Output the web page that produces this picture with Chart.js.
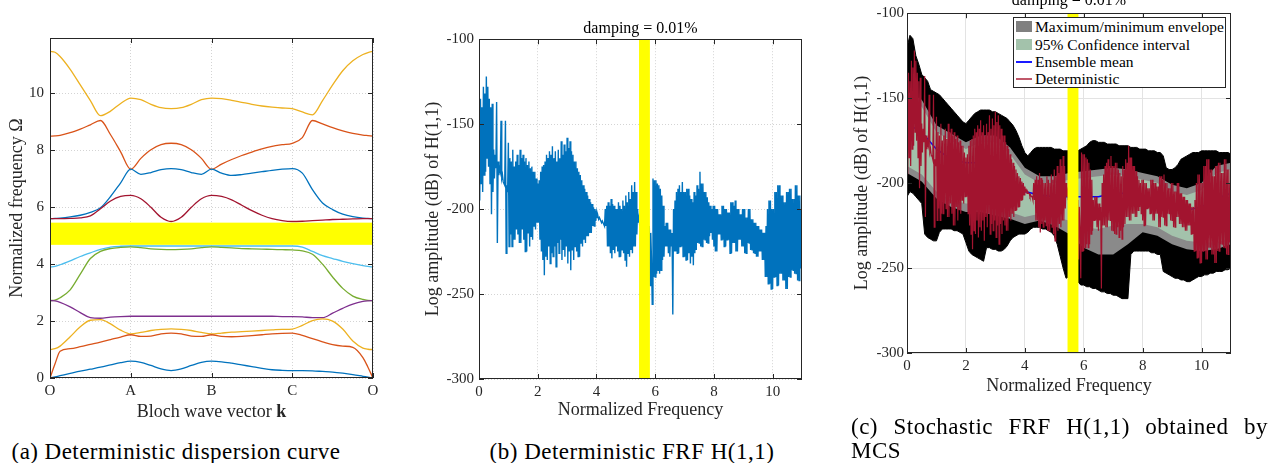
<!DOCTYPE html>
<html>
<head>
<meta charset="utf-8">
<script src="https://cdn.jsdelivr.net/npm/chart.js@4.4.1/dist/chart.umd.min.js"></script>
<style>
  html, body { margin: 0; padding: 0; background: #fff; }
  body { width: 1281px; height: 463px; position: relative; overflow: hidden; font-family: 'Liberation Serif', 'DejaVu Serif', 'Times New Roman', serif; }
  canvas { position: absolute; }
  .cap { position: absolute; font-size: 23px; line-height: 24px; letter-spacing: 0.5px; color: #000; white-space: nowrap; }
  #legend { position: absolute; left: 1013px; top: 17px; width: 211px; height: 69px; border: 1px solid #262626; background: #fff; font-size: 15.5px; color: #000; }
  #legend .row { position: absolute; left: 0; height: 17px; }
  #legend .sw { position: absolute; left: 2px; width: 16px; }
  #legend .tx { position: absolute; left: 21px; top: 0; line-height: 17px; white-space: nowrap; }
</style>
</head>
<body>
<canvas id="ca" width="400" height="430" style="left:0;top:0"></canvas>
<canvas id="cb" width="400" height="430" style="left:420px;top:0"></canvas>
<canvas id="cc" width="431" height="440" style="left:850px;top:-20px"></canvas>

<div id="legend">
  <div class="row" style="top:0px"><div class="sw" style="top:3px;height:11px;background:#808080"></div><div class="tx">Maximum/minimum envelope</div></div>
  <div class="row" style="top:18px"><div class="sw" style="top:3px;height:11px;background:#a3c2ab"></div><div class="tx">95% Confidence interval</div></div>
  <div class="row" style="top:35px"><div class="sw" style="top:8px;height:1.5px;background:#1a1aff"></div><div class="tx">Ensemble mean</div></div>
  <div class="row" style="top:52px"><div class="sw" style="top:8px;height:1.5px;background:#c0586a"></div><div class="tx">Deterministic</div></div>
</div>

<div class="cap" style="left:-14px;top:440px;width:380px;text-align:center;letter-spacing:0.45px">(a) Deterministic dispersion curve</div>
<div class="cap" style="left:432px;top:440px;width:400px;text-align:center">(b) Deterministic FRF H(1,1)</div>
<div class="cap" style="left:851px;top:415px;width:417px;text-align:justify;text-align-last:justify;">(c) Stochastic FRF H(1,1) obtained by</div>
<div class="cap" style="left:851px;top:439px;">MCS</div>

<script>
// ---------------- Panel (a): dispersion curves ----------------
const kLabels = ['O', 'A', 'B', 'C', 'O'];
const kPath = [0, 0.0625, 0.125, 0.25, 0.375, 0.5, 0.625, 0.75, 0.875, 1,
  1.125, 1.25, 1.375, 1.5, 1.625, 1.75, 1.875, 2,
  2.125, 2.25, 2.375, 2.5, 2.625, 2.75, 2.875, 3,
  3.125, 3.25, 3.375, 3.5, 3.625, 3.75, 3.875, 3.9375, 4];
const band1 = [0,0.04,0.08,0.16,0.24,0.31,0.38,0.46,0.54,0.59, 0.55,0.44,0.32,0.26,0.32,0.44,0.55,0.59, 0.57,0.52,0.46,0.40,0.34,0.29,0.27,0.26, 0.26,0.25,0.23,0.21,0.17,0.12,0.06,0.03,0];
const band2 = [0,0.5,0.94,1.03,1.1,1.18,1.26,1.35,1.44,1.52, 1.46,1.47,1.55,1.58,1.55,1.47,1.46,1.52, 1.46,1.45,1.46,1.49,1.52,1.55,1.57,1.58, 1.5,1.38,1.27,1.17,1.12,1.08,0.72,0.38,0];
const band3 = [1.0,1.03,1.12,1.45,1.8,2.03,2.05,1.9,1.68,1.55, 1.6,1.67,1.71,1.73,1.71,1.67,1.6,1.55, 1.58,1.61,1.63,1.65,1.67,1.69,1.71,1.72, 1.85,2.02,2.08,2.0,1.72,1.3,1.05,1.01,1.0];
const band4 = [2.72,2.71,2.66,2.5,2.3,2.12,2.1,2.14,2.16,2.17, 2.17,2.17,2.17,2.17,2.17,2.17,2.17,2.17, 2.17,2.17,2.17,2.17,2.17,2.17,2.16,2.16, 2.15,2.12,2.12,2.28,2.45,2.6,2.69,2.71,2.72];
const band5 = [2.72,2.74,2.82,3.1,3.65,4.2,4.45,4.55,4.59,4.61, 4.58,4.54,4.52,4.51,4.52,4.54,4.58,4.61, 4.59,4.57,4.55,4.54,4.53,4.52,4.51,4.5, 4.47,4.35,4.0,3.55,3.15,2.88,2.76,2.73,2.72];
const band6 = [3.9,3.92,3.98,4.12,4.27,4.4,4.52,4.6,4.63,4.64, 4.64,4.64,4.64,4.64,4.64,4.64,4.64,4.64, 4.64,4.64,4.64,4.64,4.64,4.64,4.64,4.64, 4.6,4.45,4.3,4.2,4.1,4.02,3.95,3.92,3.9];
const band7 = [5.6,5.6,5.6,5.61,5.63,5.7,5.95,6.22,6.38,6.42, 6.3,6.0,5.65,5.5,5.65,6.0,6.3,6.42, 6.38,6.26,6.07,5.88,5.72,5.6,5.53,5.5, 5.51,5.53,5.55,5.57,5.58,5.59,5.6,5.6,5.6];
const band8 = [5.6,5.61,5.62,5.66,5.72,5.82,5.98,6.38,6.86,7.34, 7.16,7.22,7.32,7.36,7.32,7.22,7.16,7.34, 7.2,7.12,7.15,7.2,7.25,7.3,7.34,7.36, 7.2,6.62,6.15,5.92,5.76,5.67,5.62,5.61,5.6];
const band9 = [8.5,8.51,8.53,8.62,8.75,8.9,9.05,8.55,7.95,7.34, 7.72,8.02,8.2,8.25,8.2,8.02,7.72,7.34, 7.52,7.68,7.82,7.94,8.05,8.14,8.2,8.25, 8.45,9.05,8.93,8.8,8.69,8.6,8.54,8.52,8.5];
const band10 = [11.48,11.45,11.3,10.85,10.3,9.75,9.22,9.38,9.65,9.84, 9.78,9.62,9.5,9.47,9.5,9.62,9.78,9.84, 9.82,9.76,9.69,9.62,9.56,9.52,9.49,9.47, 9.35,9.25,9.75,10.3,10.8,11.15,11.37,11.44,11.48];
const bandGapA = [4.68, 5.46];
const yTicksA = { min: 0, max: 11.95, step: 2 };

// ---------------- Panel (b): deterministic FRF (read at 0.025 steps) ----------------
const FREQ_STEP_B = 0.025;
const frfDet = [
 -150,-195,-135,-185, -140,-190,-128,-180, -132,-178,-122,-170, -128,-175,-135,-185, -140,-203,-138,-190,
 -165,-182,-168,-176, -137,-220,-172,-180, -176,-178,-148,-182, -180,-184,-184,-186, -148,-226,-186,-190,
 -161,-222,-170,-215, -172,-222,-165,-218, -175,-218,-172,-212, -168,-215,-174,-220, -165,-220,-170,-212,
 -168,-218,-172,-225, -170,-225,-174,-214, -172,-222,-176,-216, -175,-218,-178,-210, -178,-212,-182,-208,
 -185,-208,-183,-218, -178,-225,-175,-230, -174,-239,-172,-228, -168,-230,-170,-222, -166,-232,-168,-226,
 -163,-228,-170,-222, -166,-234,-172,-220, -165,-226,-170,-218, -160,-230,-168,-224, -162,-228,-166,-222,
 -158,-232,-164,-225, -160,-236,-166,-224, -168,-230,-172,-222, -172,-225,-176,-228, -178,-228,-180,-220,
 -183,-222,-186,-218, -188,-220,-190,-216, -192,-216,-194,-214, -196,-214,-197,-210, -199,-210,-200,-207,
 -202,-205,-204,-206, -205,-206,-206,-208, -207,-208,-208,-210, -200,-210,-198,-222, -196,-222,-198,-226,
 -194,-229,-197,-224, -198,-226,-200,-222, -200,-225,-196,-228, -198,-228,-200,-224, -195,-226,-198,-230,
 -192,-234,-196,-226, -190,-228,-194,-224, -186,-226,-190,-222, -184,-222,-190,-215, -200,-208,-205,-210,
 -205,-212,-205,-215, -205,-212,-205,-215, -205,-212,-205,-215,
 -210,-245,-214,-230, -256,-182,-240,-183, -240,-183,-238,-185, -236,-186,-238,-188, -236,-192,-230,-198,
 -228,-210,-222,-208, -222,-208,-226,-212, -228,-212,-222,-214, -262,-200,-225,-195, -225,-190,-226,-188,
 -226,-186,-222,-190, -222,-184,-228,-190, -228,-190,-230,-188, -230,-188,-226,-192, -232,-194,-228,-196,
 -233,-190,-226,-192, -224,-186,-220,-188, -220,-178,-222,-185, -222,-185,-218,-190, -218,-190,-220,-193,
 -220,-196,-216,-198, -214,-200,-218,-198, -222,-198,-225,-200, -225,-200,-215,-203, -215,-203,-218,-198,
 -218,-198,-222,-200, -222,-200,-218,-202, -218,-202,-226,-196, -226,-196,-220,-198, -220,-195,-225,-200,
 -225,-200,-218,-203, -218,-203,-222,-200, -222,-200,-226,-205, -226,-205,-220,-200, -220,-200,-224,-206,
 -224,-206,-226,-208, -226,-208,-228,-210, -228,-210,-225,-212, -225,-212,-230,-214, -230,-214,-240,-210,
 -240,-200,-244,-195, -244,-195,-247,-200, -247,-200,-240,-190, -240,-190,-245,-186, -245,-186,-238,-192,
 -238,-192,-242,-196, -242,-196,-247,-190, -247,-190,-240,-188, -240,-188,-236,-194, -236,-194,-238,-186,
 -238,-186,-242,-192, -242,-192,-235,-200,
 -222];
const bandGapFreq = [5.45, 5.82];
const yTicksFRF = { min: -300, max: -100, step: 50 };
const xTicksFRF = { min: 0, max: 11, step: 2 };

// ---------------- Panel (c): stochastic FRF ----------------
const FREQ_STEP_ENV = 0.1;
const envMax = [
 -120,-113,-115,-125,-130,-136,-138,-140,-145,-146,
 -147,-148,-150,-152,-154,-156,-158,-160,-162,-164,
 -165,-163,-161,-159,-158,-157,-157,-157,-157,-158,
 -158,-159,-160,-161,-162,-164,-166,-169,-173,-178,
 -182,-184,-182,-180,-179,-179,-179,-179,-179,-179,
 -180,-180,-180,-181,-181,-181,-181,-181,-181,-180,
 -179,-178,-176,-175,-175,-176,-176,-176,-177,-177,
 -177,-177,-178,-178,-178,-178,-179,-179,-179,-180,
 -180,-180,-181,-181,-181,-182,-182,-184,-191,-192,
 -192,-191,-189,-186,-185,-184,-183,-182,-182,-182,
 -181,-181,-181,-181,-181,-181,-182,-182,-182,-182,
 -183];
const envMin = [
 -208,-205,-206,-208,-210,-212,-230,-232,-233,-234,
 -234,-229,-227,-227,-227,-227,-228,-228,-229,-230,
 -235,-240,-242,-243,-244,-245,-246,-238,-238,-239,
 -239,-240,-240,-239,-237,-234,-232,-231,-230,-230,
 -230,-229,-227,-226,-226,-226,-227,-227,-228,-229,
 -231,-236,-243,-250,-256,-255,-256,-257,-258,-260,
 -260,-261,-261,-262,-262,-263,-264,-264,-265,-265,
 -266,-266,-267,-268,-268,-268,-242,-240,-240,-240,
 -240,-240,-240,-241,-241,-242,-242,-252,-253,-254,
 -255,-256,-256,-257,-257,-258,-258,-257,-256,-255,
 -255,-254,-254,-253,-253,-252,-252,-252,-251,-251,
 -250];
const FREQ_STEP_STAT = 0.5;
const grayUpper = [-146,-151,-166,-171,-176,-172,-172,-179,-191,-196,-196,-194,-193,-192,-191,-192,-194,-196,-201,-203,-200,-190,-188];
const grayLower = [-194,-199,-209,-214,-217,-217,-219,-221,-224,-222,-225,-230,-238,-242,-242,-236,-229,-231,-236,-239,-240,-239,-236];
const ciUpper   = [-150,-155,-170,-175,-180,-176,-176,-183,-195,-200,-200,-198,-197,-196,-195,-196,-198,-200,-205,-207,-204,-194,-192];
const ciLower   = [-190,-195,-205,-210,-212,-212,-214,-217,-220,-218,-220,-222,-226,-227,-225,-224,-224,-226,-231,-234,-235,-235,-232];
const ensMean   = [-165,-170,-180,-186,-188,-188,-190,-197,-205,-207,-208,-208,-208,-208,-206,-206,-208,-210,-212,-216,-214,-209,-206];

// ---------------- helpers ----------------
const FONT = "'Liberation Serif', 'DejaVu Serif', 'Times New Roman', serif";
const INK = '#262626';
Chart.defaults.font.family = FONT;
Chart.defaults.color = INK;

const pts = (xs, ys) => ys.map((y, i) => ({ x: xs[i], y }));
const stepPts = (step, ys) => ys.map((y, i) => ({ x: +(i * step).toFixed(4), y }));

function seg(ctx, x1, y1, x2, y2) { ctx.beginPath(); ctx.moveTo(x1, y1); ctx.lineTo(x2, y2); ctx.stroke(); }

const axesBox = {
  id: 'axesBox',
  afterDatasetsDraw(chart, args, o) {
    const { ctx, chartArea: a } = chart;
    const sx = chart.scales.x, sy = chart.scales.y;
    ctx.save();
    if (o.band) {
      ctx.fillStyle = '#ffff00';
      if (o.band.axis === 'x') {
        const x1 = sx.getPixelForValue(o.band.range[0]), x2 = sx.getPixelForValue(o.band.range[1]);
        ctx.fillRect(x1, a.top, x2 - x1, a.height);
      } else {
        const y1 = sy.getPixelForValue(o.band.range[1]), y2 = sy.getPixelForValue(o.band.range[0]);
        ctx.fillRect(a.left, y1, a.width, y2 - y1);
      }
    }
    ctx.strokeStyle = INK; ctx.lineWidth = 1;
    const L = 5;
    sx.ticks.forEach(t => { const p = Math.round(sx.getPixelForValue(t.value)) + 0.5; seg(ctx, p, a.bottom, p, a.bottom - L); seg(ctx, p, a.top, p, a.top + L); });
    sy.ticks.forEach(t => { const p = Math.round(sy.getPixelForValue(t.value)) + 0.5; seg(ctx, a.left, p, a.left + L, p); seg(ctx, a.right, p, a.right - L, p); });
    ctx.strokeRect(Math.round(a.left) + 0.5, Math.round(a.top) + 0.5, Math.round(a.width) - 1, Math.round(a.height) - 1);
    if (o.richTitle) {
      const parts = o.richTitle.parts;
      let total = 0;
      parts.forEach(p => { ctx.font = (p.bold ? 'bold ' : '') + o.richTitle.size + 'px ' + FONT; p.w = ctx.measureText(p.text).width; total += p.w; });
      let x = (a.left + a.right) / 2 - total / 2;
      ctx.fillStyle = INK; ctx.textBaseline = 'middle'; ctx.textAlign = 'left';
      parts.forEach(p => { ctx.font = (p.bold ? 'bold ' : '') + o.richTitle.size + 'px ' + FONT; ctx.fillText(p.text, x, o.richTitle.y); x += p.w; });
    }
    ctx.restore();
  }
};

function baseScales(cfg) {
  return {
    x: {
      type: 'linear', min: cfg.x.min, max: cfg.x.max,
      afterFit: s => { s.height = cfg.xH; },
      ticks: { stepSize: cfg.x.step, includeBounds: false, padding: cfg.xTickPad, font: { size: 15 }, color: INK, maxRotation: 0, autoSkip: false, callback: cfg.x.cb },
      grid: { color: cfg.gridColor, drawTicks: false, lineWidth: 1 },
      border: { display: false, dash: cfg.dash },
      title: cfg.xTitle ? { display: true, text: cfg.xTitle, font: { size: 18 }, color: INK, padding: { top: 0, bottom: cfg.xTitlePad } } : { display: false }
    },
    y: {
      type: 'linear', min: cfg.y.min, max: cfg.y.max,
      afterFit: s => { s.width = cfg.yW; },
      ticks: { stepSize: cfg.y.step, includeBounds: false, padding: cfg.yTickPad, font: { size: 15 }, color: INK },
      grid: { color: cfg.gridColor, drawTicks: false, lineWidth: 1 },
      border: { display: false, dash: cfg.dash },
      title: { display: true, text: cfg.yTitle, font: { size: 18 }, color: INK, padding: { top: cfg.yTitlePad, bottom: 0 } }
    }
  };
}

function makeCharts() {
// ---------------- Chart (a) ----------------
const colsA = ['#0072BD', '#D95319', '#EDB120', '#7E2F8E', '#77AC30', '#4DBEEE', '#A2142F', '#0072BD', '#D95319', '#EDB120'];
const bandsA = [band1, band2, band3, band4, band5, band6, band7, band8, band9, band10];
new Chart(document.getElementById('ca'), {
  type: 'line',
  data: {
    datasets: bandsA.map((b, i) => ({
      data: pts(kPath, b), borderColor: colsA[i], borderWidth: 1.3, pointRadius: 0,
      cubicInterpolationMode: 'monotone', fill: false
    }))
  },
  options: {
    responsive: false, animation: false, events: [],
    layout: { padding: { left: 0, right: 27, top: 38, bottom: 0 } },
    scales: baseScales({
      x: { min: 0, max: 4, step: 1, cb: v => kLabels[v] }, y: yTicksA,
      xH: 52, yW: 50, xTickPad: 4, yTickPad: 6, yTitlePad: 6,
      gridColor: '#d4d4d4', dash: [1, 2], yTitle: 'Normalized frequency Ω', xTitle: null
    }),
    plugins: {
      legend: { display: false }, tooltip: { enabled: false },
      axesBox: { band: { axis: 'y', range: bandGapA }, richTitle: { size: 18, y: 412, parts: [{ text: 'Bloch wave vector ' }, { text: 'k', bold: true }] } }
    }
  },
  plugins: [axesBox]
});

// ---------------- Chart (b) ----------------
new Chart(document.getElementById('cb'), {
  type: 'line',
  data: {
    datasets: [{ data: stepPts(FREQ_STEP_B, frfDet), borderColor: '#0072BD', borderWidth: 1.4, pointRadius: 0, tension: 0, fill: false }]
  },
  options: {
    responsive: false, animation: false, events: [],
    layout: { padding: { left: 0, right: 18, top: 19, bottom: 0 } },
    scales: baseScales({
      x: xTicksFRF, y: yTicksFRF,
      xH: 51, yW: 59, xTickPad: 4, yTickPad: 5, yTitlePad: 2, xTitlePad: 9,
      gridColor: '#d4d4d4', dash: [1, 2], yTitle: 'Log amplitude (dB) of H(1,1)', xTitle: 'Normalized Frequency'
    }),
    plugins: {
      legend: { display: false }, tooltip: { enabled: false },
      title: { display: true, text: 'damping = 0.01%', fullSize: false, color: '#000', font: { size: 16, weight: 'normal' }, padding: { top: 0, bottom: 1 } },
      axesBox: { band: { axis: 'x', range: bandGapFreq } }
    }
  },
  plugins: [axesBox]
});

// ---------------- Chart (c) ----------------
new Chart(document.getElementById('cc'), {
  type: 'line',
  data: {
    datasets: [
      { label: 'max', data: stepPts(FREQ_STEP_ENV, envMax), borderColor: '#000', borderWidth: 1, backgroundColor: '#000', fill: '+1', pointRadius: 0, order: 10 },
      { label: 'min', data: stepPts(FREQ_STEP_ENV, envMin), borderColor: '#000', borderWidth: 1, fill: false, pointRadius: 0, order: 9 },
      { label: 'grayU', data: stepPts(FREQ_STEP_STAT, grayUpper), borderColor: 'rgba(0,0,0,0)', borderWidth: 0, backgroundColor: '#8a8a8a', fill: '+1', pointRadius: 0, order: 8 },
      { label: 'grayL', data: stepPts(FREQ_STEP_STAT, grayLower), borderColor: 'rgba(0,0,0,0)', borderWidth: 0, fill: false, pointRadius: 0, order: 7 },
      { label: 'ciU', data: stepPts(FREQ_STEP_STAT, ciUpper), borderColor: 'rgba(0,0,0,0)', borderWidth: 0, backgroundColor: '#a3c2ab', fill: '+1', pointRadius: 0, order: 6 },
      { label: 'ciL', data: stepPts(FREQ_STEP_STAT, ciLower), borderColor: 'rgba(0,0,0,0)', borderWidth: 0, fill: false, pointRadius: 0, order: 5 },
      { label: 'Ensemble mean', data: stepPts(FREQ_STEP_STAT, ensMean), borderColor: '#0000ff', borderWidth: 1.5, fill: false, pointRadius: 0, order: 2 },
      { label: 'Deterministic', data: stepPts(FREQ_STEP_B, frfDet), borderColor: '#A2142F', borderWidth: 1.2, fill: false, pointRadius: 0, order: 1 }
    ]
  },
  options: {
    responsive: false, animation: false, events: [],
    layout: { padding: { left: 0, right: 50, top: 11, bottom: 0 } },
    scales: baseScales({
      x: xTicksFRF, y: yTicksFRF,
      xH: 67, yW: 57, xTickPad: 4, yTickPad: 3, yTitlePad: 1, xTitlePad: 23,
      gridColor: '#e3e3e3', dash: [], yTitle: 'Log amplitude (dB) of H(1,1)', xTitle: 'Normalized Frequency'
    }),
    plugins: {
      legend: { display: false }, tooltip: { enabled: false },
      title: { display: true, text: 'damping = 0.01%', fullSize: false, color: '#000', font: { size: 16, weight: 'normal' }, padding: { top: 0, bottom: 3 } },
      axesBox: { band: { axis: 'x', range: bandGapFreq } }
    }
  },
  plugins: [axesBox]
});
}

if (document.fonts && document.fonts.load) {
  Promise.all([
    document.fonts.load("15px 'Liberation Serif'"),
    document.fonts.load("bold 17px 'Liberation Serif'")
  ]).then(makeCharts, makeCharts);
} else {
  makeCharts();
}
</script>
</body>
</html>
